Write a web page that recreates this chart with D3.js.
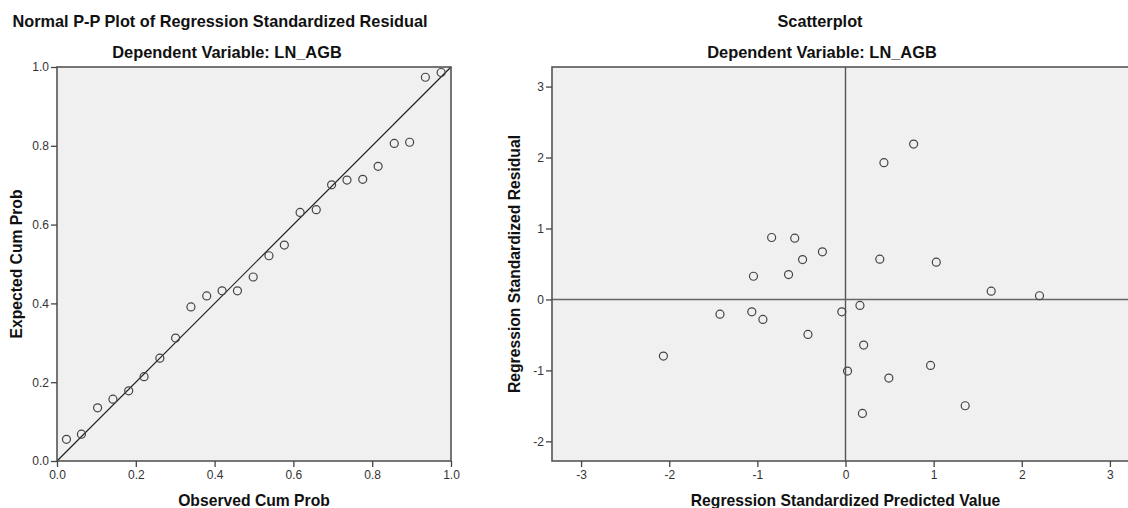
<!DOCTYPE html>
<html>
<head>
<meta charset="utf-8">
<script src="https://cdn.jsdelivr.net/npm/d3@7"></script>
<style>
  body { margin: 0; background: #fff; }
  text { font-family: "Liberation Sans", Arial, sans-serif; }
</style>
</head>
<body>
<svg id="grafico"></svg>
<script>
"use strict"

// P-P plot (observed vs expected cumulative probability)
const ppObservado = [0.024, 0.062, 0.103, 0.142, 0.182, 0.221, 0.261, 0.301, 0.340, 0.380,
                     0.419, 0.458, 0.498, 0.538, 0.577, 0.617, 0.658, 0.697, 0.736, 0.776,
                     0.815, 0.856, 0.895, 0.935, 0.975];
const ppEsperado = [0.055, 0.068, 0.135, 0.157, 0.178, 0.214, 0.261, 0.312, 0.391, 0.419,
                    0.432, 0.432, 0.467, 0.521, 0.548, 0.631, 0.638, 0.701, 0.713, 0.715,
                    0.748, 0.806, 0.809, 0.974, 0.986];
const ppTicks = [0, 0.2, 0.4, 0.6, 0.8, 1.0];

// scatterplot (standardized predicted vs standardized residual)
const previsto = [0.773, 0.436, -0.838, -0.576, -0.262, -0.487, 0.389, 1.030, -1.044, -0.646,
                  1.653, 2.201, -1.424, -1.063, -0.937, -0.042, 0.164, -0.426, 0.206, -2.066,
                  0.023, 0.965, 0.492, 1.358, 0.192];
const residuo = [2.19, 1.927, 0.873, 0.864, 0.671, 0.562, 0.567, 0.525, 0.327, 0.351,
                 0.117, 0.052, -0.207, -0.174, -0.282, -0.174, -0.085, -0.493, -0.643, -0.798,
                 -1.009, -0.930, -1.108, -1.498, -1.606];
const ticksX = [-3, -2, -1, 0, 1, 2, 3];
const ticksY = [-2, -1, 0, 1, 2, 3];

const titulos = {
  pp: 'Normal P-P Plot of Regression Standardized Residual',
  sc: 'Scatterplot',
  sub: 'Dependent Variable: LN_AGB'
};

function eixos(g, x, y, tx, ty, fmt, alturaBase){
  const ax = g.append('g')
    .attr('transform', `translate(0, ${alturaBase})`)
    .call(d3.axisBottom(x).tickValues(tx).tickFormat(fmt).tickSize(6).tickPadding(3));
  const ay = g.append('g')
    .attr('transform', `translate(${x.range()[0]}, 0)`)
    .call(d3.axisLeft(y).tickValues(ty).tickFormat(fmt).tickSize(6).tickPadding(2));
  [ax, ay].forEach(a => {
    a.select('.domain').remove();
    a.selectAll('line').attr('stroke', '#444').attr('stroke-width', 1.3);
    a.selectAll('text').attr('fill', '#333').attr('font-size', 12)
      .attr('font-family', '"Liberation Sans", Arial, sans-serif');
  });
}

function titulo(g, texto, x, y, tam){
  return g.append('text').text(texto)
    .attr('x', x).attr('y', y).attr('text-anchor', 'middle')
    .attr('font-size', tam).attr('font-weight', 'bold').attr('fill', '#111');
}

function iniciar(){
  const largura = 1128;
  const altura = 508;
  const svg = d3.select('#grafico').attr('width', largura).attr('height', altura);

  const topo = 67, base = 461;
  const hifen = d => String(d); // SPSS uses a plain hyphen for negatives

  // ---------- P-P plot ----------
  const g1 = svg.append('g');
  const x1 = d3.scaleLinear().domain([0, 1]).range([57, 451]);
  const y1 = d3.scaleLinear().domain([0, 1]).range([base, topo]);

  g1.append('rect')
    .attr('x', x1(0)).attr('y', y1(1))
    .attr('width', x1(1) - x1(0)).attr('height', y1(0) - y1(1))
    .attr('fill', '#f0f0f0');

  g1.append('line')
    .attr('x1', x1(0)).attr('y1', y1(0))
    .attr('x2', x1(1)).attr('y2', y1(1))
    .attr('stroke', '#222').attr('stroke-width', 1.2);

  g1.selectAll('.ponto')
    .data(ppObservado)
    .enter()
      .append('circle')
      .classed('ponto', true)
      .attr('cx', d => x1(d))
      .attr('cy', (d, i) => y1(ppEsperado[i]))
      .attr('r', 4)
      .attr('fill', 'none')
      .attr('stroke', '#444')
      .attr('stroke-width', 1.2);

  g1.append('rect')
    .attr('x', x1(0)).attr('y', y1(1))
    .attr('width', x1(1) - x1(0)).attr('height', y1(0) - y1(1))
    .attr('fill', 'none').attr('stroke', '#555').attr('stroke-width', 1.6);

  eixos(g1, x1, y1, ppTicks, ppTicks, d3.format('.1f'), base);

  titulo(g1, titulos.pp, 220, 27, 16.3);
  titulo(g1, titulos.sub, 227, 58, 16.4);
  titulo(g1, 'Observed Cum Prob', (x1(0) + x1(1)) / 2, 506, 15.7);
  titulo(g1, 'Expected Cum Prob', 0, 0, 15.7)
    .attr('transform', `translate(22, ${(topo + base) / 2}) rotate(-90)`);

  // ---------- Scatterplot ----------
  const g2 = svg.append('g');
  const x2 = d3.scaleLinear().domain([-3.33, 3.33]).range([552, 1139]);
  const y2 = d3.scaleLinear().domain([-2.277, 3.276]).range([base, topo]);

  g2.append('rect')
    .attr('x', x2.range()[0]).attr('y', topo)
    .attr('width', x2.range()[1] - x2.range()[0]).attr('height', base - topo)
    .attr('fill', '#f0f0f0');

  g2.append('line')
    .attr('x1', x2(0)).attr('x2', x2(0)).attr('y1', topo).attr('y2', base)
    .attr('stroke', '#555').attr('stroke-width', 1.4);
  g2.append('line')
    .attr('x1', x2.range()[0]).attr('x2', x2.range()[1]).attr('y1', y2(0)).attr('y2', y2(0))
    .attr('stroke', '#666').attr('stroke-width', 1.6);

  g2.selectAll('.ponto')
    .data(previsto)
    .enter()
      .append('circle')
      .classed('ponto', true)
      .attr('cx', d => x2(d))
      .attr('cy', (d, i) => y2(residuo[i]))
      .attr('r', 4)
      .attr('fill', 'none')
      .attr('stroke', '#444')
      .attr('stroke-width', 1.2);

  g2.append('rect')
    .attr('x', x2.range()[0]).attr('y', topo)
    .attr('width', x2.range()[1] - x2.range()[0]).attr('height', base - topo)
    .attr('fill', 'none').attr('stroke', '#555').attr('stroke-width', 1.6);

  eixos(g2, x2, y2, ticksX, ticksY, hifen, base);

  titulo(g2, titulos.sc, 820, 27, 16.3);
  titulo(g2, titulos.sub, 822, 58, 16.4);
  titulo(g2, 'Regression Standardized Predicted Value', x2(0), 506, 15.7);
  titulo(g2, 'Regression Standardized Residual', 0, 0, 15.7)
    .attr('transform', `translate(520, ${(topo + base) / 2}) rotate(-90)`);
}

window.addEventListener('load', iniciar, false);
</script>
</body>
</html>
